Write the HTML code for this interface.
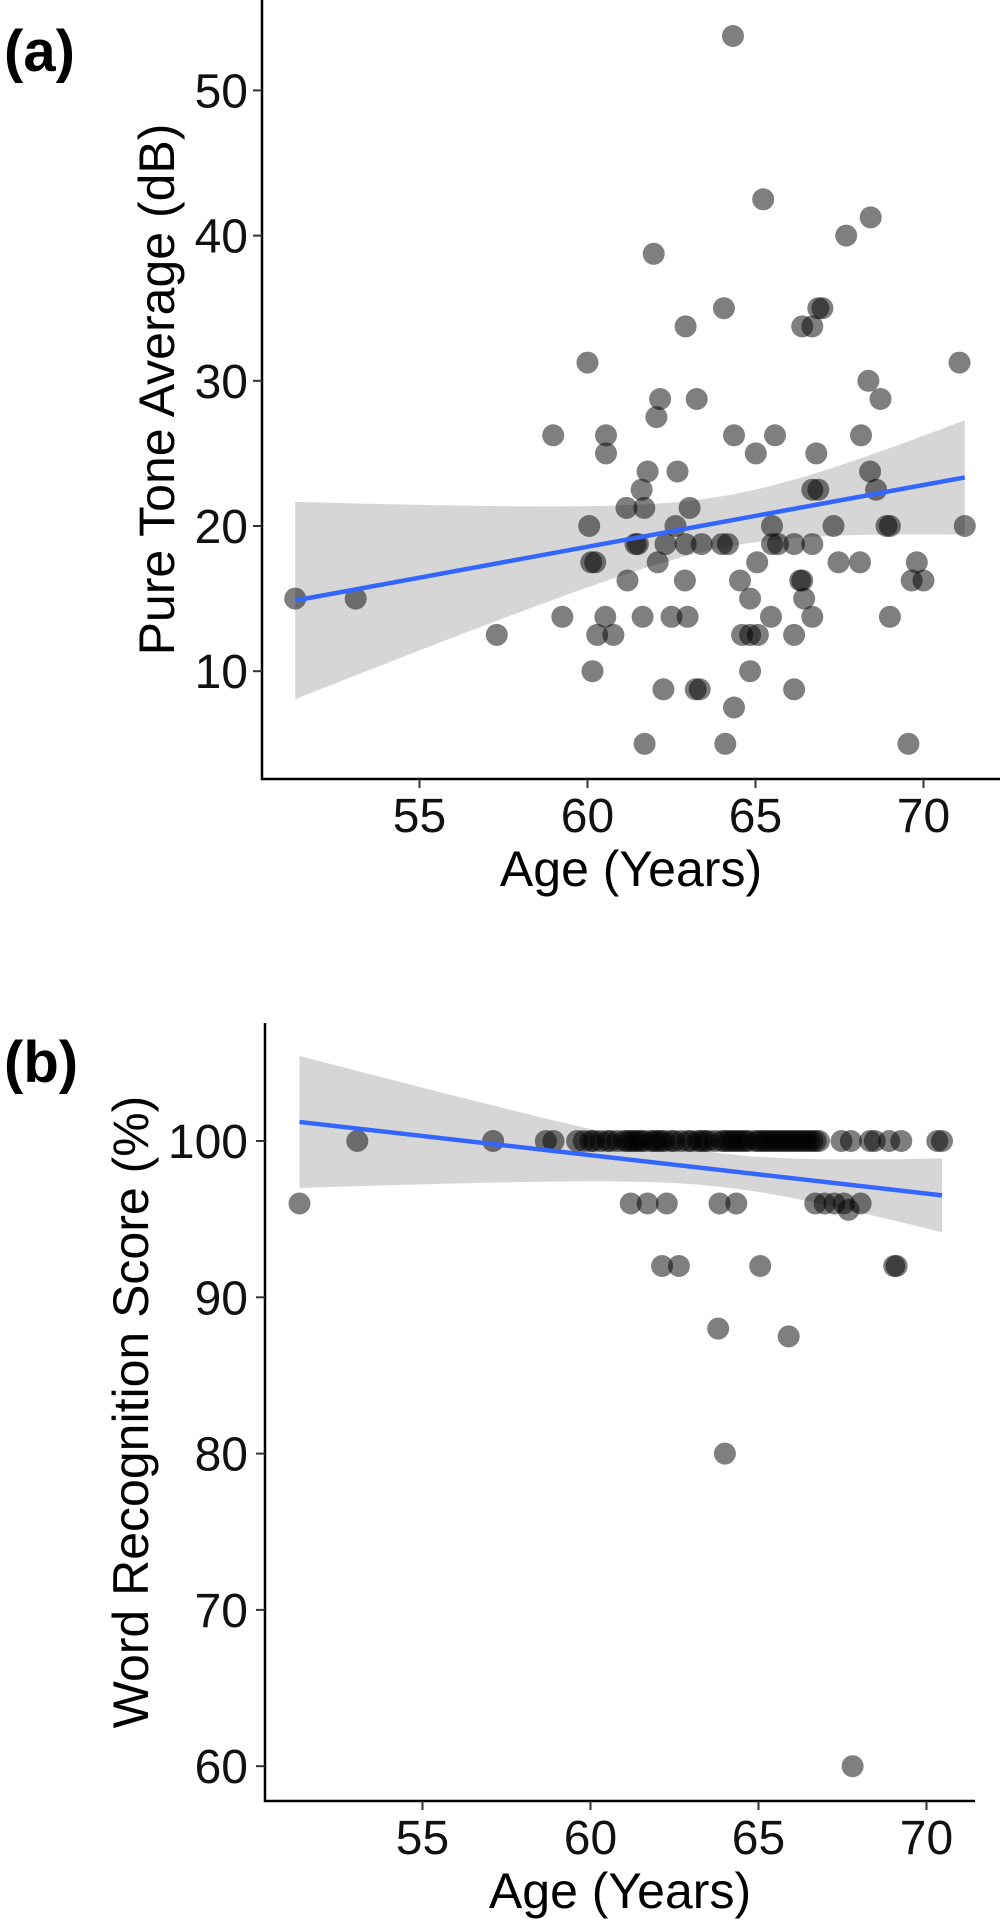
<!DOCTYPE html>
<html><head><meta charset="utf-8"><style>
html,body{margin:0;padding:0;background:#fff;}
svg{display:block;font-family:"Liberation Sans",Arial,sans-serif;}
</style></head><body>
<svg id="fig" width="1000" height="1920" viewBox="0 0 1000 1920" xmlns="http://www.w3.org/2000/svg">
<g id="pa"></g>
<g id="pb"></g>
</svg>
<script>
// Panel (a) data
const ageA = [51.3,53.1,57.3,58.98,59.25,60.0,60.05,60.11,60.23,60.15,60.29,60.77,60.53,60.55,60.55,61.19,61.16,61.43,61.5,61.61,61.69,61.79,61.64,61.97,62.05,62.16,62.09,62.26,62.32,62.5,62.62,62.68,62.92,62.9,62.98,63.04,62.92,63.25,63.22,63.34,63.4,64.0,64.18,64.06,64.33,64.36,64.36,64.54,64.6,64.84,65.07,64.84,64.84,65.01,65.05,65.23,65.46,65.49,65.58,65.49,65.67,66.15,66.15,66.15,66.33,66.39,66.45,66.69,66.69,66.39,66.69,66.87,66.99,66.81,66.69,66.87,67.7,68.43,71.07,68.36,68.72,68.14,68.41,68.59,67.32,68.9,69.0,71.23,67.47,68.11,69.8,69.65,70.0,69.0,69.55,61.7,64.1];
const ptaA = [15,15,12.5,26.25,13.75,31.25,20,17.5,17.5,10,12.5,12.5,13.75,26.25,25,16.25,21.25,18.75,18.75,22.5,21.25,23.75,13.75,38.75,27.5,28.75,17.5,8.75,18.75,13.75,20,23.75,33.75,16.25,13.75,21.25,18.75,28.75,8.75,8.75,18.75,18.75,18.75,35,53.75,26.25,7.5,16.25,12.5,12.5,12.5,15,10,25,17.5,42.5,13.75,20,26.25,18.75,18.75,18.75,12.5,8.75,16.25,16.25,15,13.75,18.75,33.75,33.75,35,35,25,22.5,22.5,40,41.25,31.25,30,28.75,26.25,23.75,22.5,20,20,20,20,17.5,17.5,17.5,16.25,16.25,13.75,5,5,5];
const yTicksA = [10,20,30,40,50];
// Panel (b) data
const ageB = [51.34,61.2,61.7,62.27,63.84,64.34,66.69,66.97,67.26,67.54,68.04,67.68,62.13,62.63,65.05,69.04,69.11,63.8,64.0,65.9,67.8,53.06,57.1,58.67,58.9,59.6,59.8,60.0,60.1,60.3,60.5,60.6,60.8,61.0,61.1,61.3,61.4,61.6,61.8,61.9,62.1,62.2,62.4,62.5,62.7,62.9,63.0,63.2,63.4,63.5,63.7,63.9,64.0,64.1,64.3,64.4,64.6,64.7,64.9,65.0,65.1,65.3,65.4,65.6,65.7,65.9,66.0,66.1,66.3,66.4,66.5,66.7,66.8,61.2,61.5,62.0,63.3,64.2,64.5,65.2,65.5,65.8,66.2,66.6,67.47,67.75,68.32,68.46,68.89,69.25,70.32,70.46];
const wrsB = [96,96,96,96,96,96,96,96,96,96,96,95.6,92,92,92,92,92,88,80,87.5,60,100,100,100,100,100,100,100,100,100,100,100,100,100,100,100,100,100,100,100,100,100,100,100,100,100,100,100,100,100,100,100,100,100,100,100,100,100,100,100,100,100,100,100,100,100,100,100,100,100,100,100,100,100,100,100,100,100,100,100,100,100,100,100,100,100,100,100,100,100,100,100];
const yTicksB = [60,70,80,90,100];
const xTicks = [55,60,65,70];

const NS="http://www.w3.org/2000/svg";
function mk(parent,tag,attrs){const e=document.createElementNS(NS,tag);for(const k in attrs)e.setAttribute(k,attrs[k]);parent.appendChild(e);return e;}

function fit(xs,ys){
  const n=xs.length;let mx=0,my=0;for(let i=0;i<n;i++){mx+=xs[i];my+=ys[i];}mx/=n;my/=n;
  let sxx=0,sxy=0;for(let i=0;i<n;i++){sxx+=(xs[i]-mx)**2;sxy+=(xs[i]-mx)*(ys[i]-my);}
  const b=sxy/sxx,a=my-b*mx;let sse=0;for(let i=0;i<n;i++){sse+=(ys[i]-a-b*xs[i])**2;}
  const s=Math.sqrt(sse/(n-2));return {a,b,mx,sxx,s,n};
}

function panel(g,cfg){
  const {ages,vals,yTicks,xs,ys,x0,x1,y0,y1,label,labelY,ytitle,ytitleX,xtitleY,tickLabelY,ticklabelRight}=cfg;
  const f=fit(ages,vals);
  const amin=Math.min(...ages),amax=Math.max(...ages);
  const up=[],lo=[];
  for(let i=0;i<=80;i++){
    const a=amin+(amax-amin)*i/80;
    const yh=f.a+f.b*a;const se=f.s*Math.sqrt(1/f.n+(a-f.mx)**2/f.sxx);
    up.push(xs(a).toFixed(1)+','+ys(yh+1.985*se).toFixed(1));
    lo.unshift(xs(a).toFixed(1)+','+ys(yh-1.985*se).toFixed(1));
  }
  const band=mk(g,'polygon',{points:up.concat(lo).join(' '),fill:'#999999','fill-opacity':0.4});
  
  
  const pts=mk(g,'g',{});
  
  
  for(let i=0;i<ages.length;i++){
    const c=mk(pts,'circle',{cx:xs(ages[i]).toFixed(1),cy:ys(vals[i]).toFixed(1),r:11,fill:'#000','fill-opacity':0.5});
    
    
  }
  const ln=mk(g,'line',{x1:xs(amin),y1:ys(f.a+f.b*amin),x2:xs(amax),y2:ys(f.a+f.b*amax),stroke:'#3366FF','stroke-width':4.5});
  
  
  const ax=mk(g,'path',{d:`M${x0},${y0} V${y1} H${x1}`,fill:'none',stroke:'#000','stroke-width':2.5});
  
  
  yTicks.forEach(t=>{
    const y=ys(t);
    mk(g,'line',{x1:x0-9,y1:y,x2:x0,y2:y,stroke:'#333','stroke-width':2});
    const tx=mk(g,'text',{x:ticklabelRight,y:y+17,'text-anchor':'end','font-size':48,fill:'#111'});
    tx.textContent=t;
    
    
  });
  xTicks.forEach(t=>{
    const x=xs(t);
    mk(g,'line',{x1:x,y1:y1,x2:x,y2:y1+9,stroke:'#333','stroke-width':2});
    const tx=mk(g,'text',{x:x,y:tickLabelY,'text-anchor':'middle','font-size':48,fill:'#111'});
    tx.textContent=t;
    
    
  });
  const xt=mk(g,'text',{x:(x0+x1)/2,y:xtitleY,'text-anchor':'middle','font-size':50,fill:'#000'});
  xt.textContent='Age (Years)';
  
  
  const yt=mk(g,'text',{transform:`translate(${ytitleX},${(y0+y1)/2}) rotate(-90)`,'text-anchor':'middle','font-size':50,fill:'#000'});
  yt.textContent=ytitle;
  
  
  const lb=mk(g,'text',{x:4,y:labelY,'font-size':58,'font-weight':'bold',fill:'#000'});
  lb.textContent=label;
  
  
}

const xsA=a=>587.5+(a-60)*33.6;
const ysA=v=>90.4+(50-v)*14.52;
panel(document.getElementById('pa'),{ages:ageA,vals:ptaA,yTicks:yTicksA,xs:xsA,ys:ysA,x0:262,x1:1000,y0:0,y1:779,label:'(a)',labelY:71,ytitle:'Pure Tone Average (dB)',ytitleX:174,xtitleY:886,tickLabelY:832,ticklabelRight:248});

const xsB=a=>590.5+(a-60)*33.6;
const ysB=v=>1141+(100-v)*15.63;
panel(document.getElementById('pb'),{ages:ageB,vals:wrsB,yTicks:yTicksB,xs:xsB,ys:ysB,x0:265,x1:975,y0:1023,y1:1801,label:'(b)',labelY:1082,ytitle:'Word Recognition Score (%)',ytitleX:148,xtitleY:1908,tickLabelY:1854,ticklabelRight:248});
</script>
</body></html>
